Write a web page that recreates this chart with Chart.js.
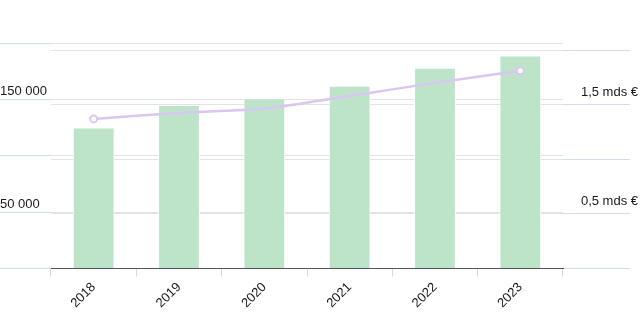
<!DOCTYPE html>
<html lang="fr">
<head>
<meta charset="utf-8">
<title>Chart</title>
<script src="https://cdn.jsdelivr.net/npm/chart.js@4.4.0/dist/chart.umd.min.js"></script>
<style>
  html, body { margin: 0; padding: 0; background: #fff; }
  #wrap { position: relative; width: 644px; height: 322px; }
</style>
</head>
<body>
<div id="wrap"><canvas id="chart"></canvas></div>
<script>
// ---------- Data ----------
const years = ["2018", "2019", "2020", "2021", "2022", "2023"];
const barValues = [125000, 145000, 151000, 162000, 178000, 189000]; // left axis
const lineValues = [1.37, 1.425, 1.465, 1.58, 1.7, 1.81]; // mds €, right axis
const leftLabelled = [50000, 150000];
const rightLabelled = [0.5, 1.5];

const FONT = { family: "'Liberation Sans', Arial, sans-serif", size: 13 };
const GRID = "#e3e3e3";
const TICK = "#d3dbf1";
const TEXT = "#1a1a1a";

function fmtThousands(v) {
  return String(v).replace(/\B(?=(\d{3})+(?!\d))/g, " ");
}

function fmtMds(v) {
  return v.toFixed(1).replace(".", ",") + " mds €";
}

const lastIdx = lineValues.length - 1;

new Chart(document.getElementById("chart"), {
  type: "bar",
  data: {
    labels: years,
    datasets: [
      {
        type: "line",
        data: lineValues,
        yAxisID: "yRight",
        order: 0,
        borderColor: "#d9c6f3",
        borderWidth: 2.5,
        tension: 0.25,
        pointRadius: (ctx) => (ctx.dataIndex === 0 || ctx.dataIndex === lastIdx ? 3.5 : 0),
        pointBackgroundColor: "#fff",
        pointBorderColor: "#d9c6f3",
        pointBorderWidth: 2,
      },
      {
        type: "bar",
        data: barValues,
        yAxisID: "yLeft",
        order: 1,
        backgroundColor: "#bde4c9",
        borderColor: "#fff",
        borderWidth: 1,
        categoryPercentage: 1,
        barPercentage: 0.49,
      },
    ],
  },
  options: {
    responsive: true,
    maintainAspectRatio: false,
    animation: false,
    layout: { padding: { top: 43, left: 0, right: 6, bottom: 8 } },
    plugins: {
      legend: { display: false },
      tooltip: { enabled: false },
    },
    scales: {
      x: {
        offset: true,
        border: { display: true, color: "#555", width: 1 },
        grid: { drawOnChartArea: false, tickColor: TICK, tickLength: 8, offset: true },
        ticks: { color: TEXT, font: FONT, minRotation: 45, maxRotation: 45, padding: 3 },
      },
      yLeft: {
        position: "left",
        min: 0,
        max: 200000,
        border: { display: false },
        grid: { color: GRID, tickColor: TICK, tickLength: 51 },
        ticks: {
          stepSize: 50000,
          color: TEXT,
          font: FONT,
          crossAlign: "far",
          labelOffset: -8,
          callback: (v) => (leftLabelled.includes(v) ? fmtThousands(v) : ""),
        },
        afterFit: (scale) => { scale.width = 51; },
      },
      yRight: {
        position: "right",
        min: 0,
        max: 2.065,
        border: { display: false },
        grid: { color: GRID, tickColor: TICK, tickLength: 67 },
        ticks: {
          stepSize: 0.5,
          includeBounds: false,
          color: TEXT,
          font: FONT,
          crossAlign: "far",
          labelOffset: -12,
          callback: (v) => (rightLabelled.some((r) => Math.abs(r - v) < 1e-6) ? fmtMds(v) : ""),
        },
        afterFit: (scale) => { scale.width = 75; },
      },
    },
  },
});
</script>
</body>
</html>
